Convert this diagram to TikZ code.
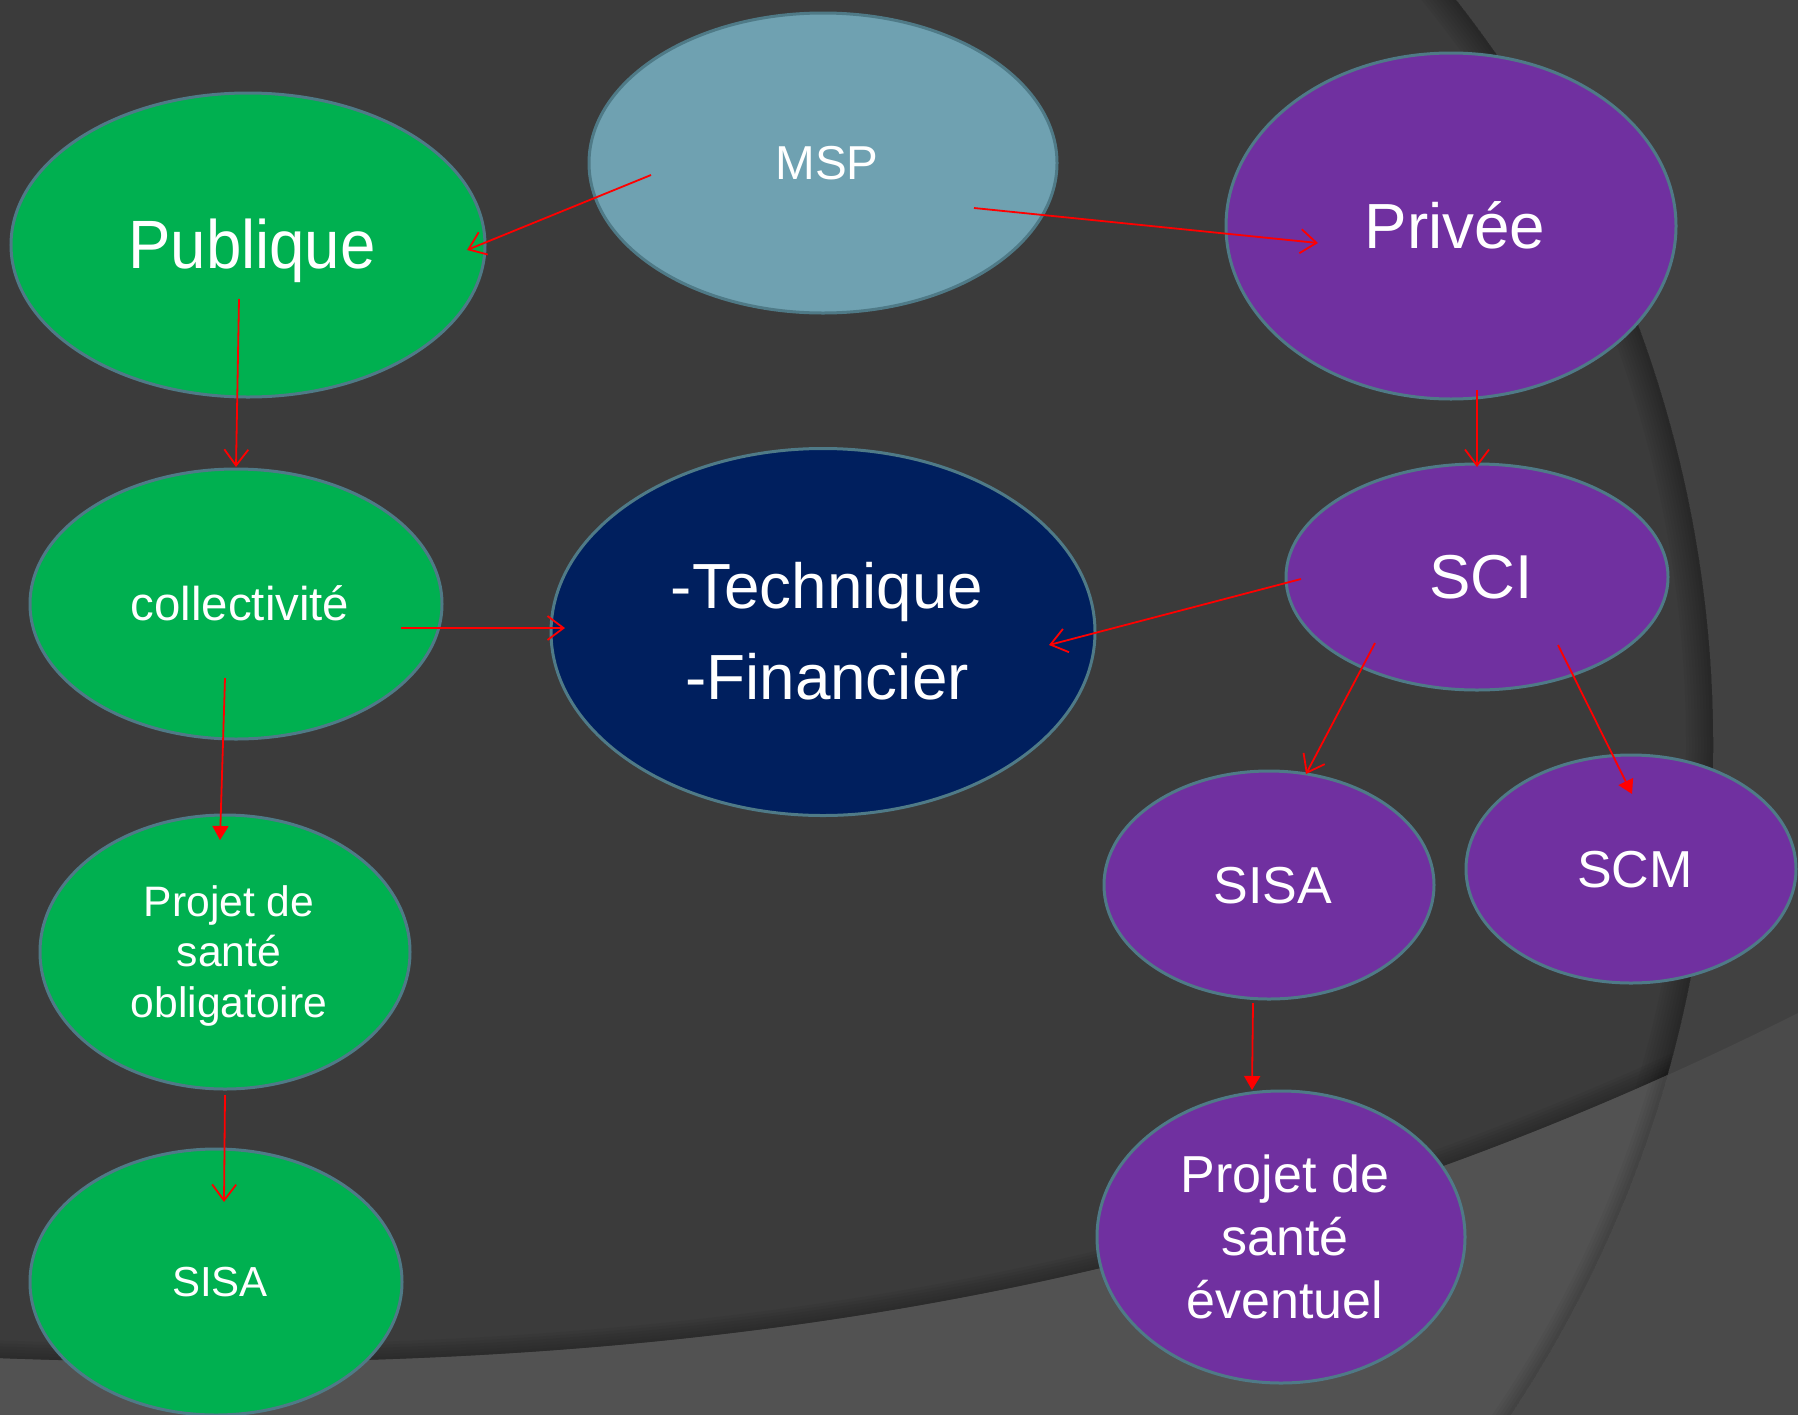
\documentclass[tikz,border=0pt]{standalone}
\usepackage{fontspec}
\usepackage{graphicx}
\setmainfont{Liberation Sans}
\usetikzlibrary{arrows.meta,shapes.geometric,calc}
\definecolor{bgdark}{HTML}{3B3B3B}
\definecolor{bgout}{HTML}{414141}
\definecolor{bglow}{HTML}{525252}
\definecolor{bglowout}{HTML}{4A4A4A}
\definecolor{mspcol}{HTML}{6FA1B1}
\definecolor{greencol}{HTML}{00B050}
\definecolor{purplecol}{HTML}{7030A0}
\definecolor{navycol}{HTML}{001F5E}
\definecolor{edgecol}{HTML}{4F7A87}
\newcommand{\bubtxt}[2][1]{\hspace*{4pt}\scalebox{#1}[1]{#2}}
\begin{document}
\begin{tikzpicture}[x=0.5pt,y=-0.5pt,
  bubble/.style={ellipse,draw=edgecol,line width=1.5pt,inner sep=0pt,text=white,align=center},
  openarr/.style={draw=red,line width=0.9pt,-{Straight Barb[length=8pt,width=12pt]}},
  fillarr/.style={draw=red,line width=0.9pt,-{Triangle[length=7pt,width=8pt]}}]
% ---------- background ----------
\useasboundingbox (0,0) rectangle (1798,1414);
\fill[bgout] (0,0) rectangle (1798,1414);
\fill[bgdark] (505,745) circle[radius=604pt];
\begin{scope}
  \clip (505,745) circle[radius=604pt];
  \foreach \w in {3,6,...,27}{\draw[black,opacity=0.035,line width=\w pt] (505,745) circle[radius=604pt];}
  \foreach \w in {3,6,...,18}{\draw[black,opacity=0.04,line width=\w pt] (-10,1358) .. controls (700,1385) and (1250,1290) .. (1808,1008);}
\end{scope}
\fill[bglowout] (-10,1358) .. controls (700,1385) and (1250,1290) .. (1808,1008) -- (1808,1424) -- (-10,1424) -- cycle;
\begin{scope}
  \clip (505,745) circle[radius=604pt];
  \fill[bglow] (-10,1358) .. controls (700,1385) and (1250,1290) .. (1808,1008) -- (1808,1424) -- (-10,1424) -- cycle;
  \begin{scope}
    \clip (-10,1358) .. controls (700,1385) and (1250,1290) .. (1808,1008) -- (1808,1424) -- (-10,1424) -- cycle;
    \foreach \w in {3,6,...,15}{\draw[black,opacity=0.035,line width=\w pt] (505,745) circle[radius=604pt];}
  \end{scope}
\end{scope}
% ---------- nodes ----------
\node[bubble,fill=mspcol,minimum width=234pt,minimum height=150pt,font=\fontsize{23.8}{28}\selectfont,text height=21.5pt,text depth=5pt] (msp) at (823,163) {\bubtxt{MSP}};
\node[bubble,fill=greencol,minimum width=237pt,minimum height=152pt,font=\fontsize{34.2}{40}\selectfont,text height=31pt,text depth=7.2pt] (pub) at (248,245) {\bubtxt[0.93]{Publique}};
\node[bubble,fill=purplecol,minimum width=225pt,minimum height=173pt,font=\fontsize{31.9}{38}\selectfont,text height=28.9pt,text depth=6.8pt] (priv) at (1451,226) {\bubtxt{Privée}};
\node[bubble,fill=greencol,minimum width=206pt,minimum height=135pt,font=\fontsize{23.7}{28}\selectfont,text height=21.4pt,text depth=5pt] (coll) at (236,604) {\bubtxt{collectivité}};
\node[bubble,fill=navycol,minimum width=272pt,minimum height=183.5pt,font=\fontsize{31.9}{45.5}\selectfont,text height=74.4pt,text depth=6.8pt] (tech) at (823,632) {\bubtxt{-Technique}\\\bubtxt{-Financier}};
\node[bubble,fill=purplecol,minimum width=191pt,minimum height=113pt,font=\fontsize{31}{38}\selectfont,text height=28pt,text depth=6.6pt] (sci) at (1477,577) {\bubtxt{SCI}};
\node[bubble,fill=purplecol,minimum width=165pt,minimum height=114pt,font=\fontsize{26}{31}\selectfont,text height=23.5pt,text depth=5.5pt] (sisar) at (1269,885) {\bubtxt{SISA}};
\node[bubble,fill=purplecol,minimum width=165pt,minimum height=114pt,font=\fontsize{26}{31}\selectfont,text height=23.5pt,text depth=5.5pt] (scm) at (1631,869) {\bubtxt{SCM}};
\node[bubble,fill=purplecol,minimum width=184pt,minimum height=146pt,font=\fontsize{26}{31.5}\selectfont,text height=86.5pt,text depth=5.5pt] (pse) at (1281,1237) {\bubtxt{Projet de}\\\bubtxt{santé}\\\bubtxt{éventuel}};
\node[bubble,fill=greencol,minimum width=185pt,minimum height=137pt,font=\fontsize{21.3}{25.2}\selectfont,text height=69.7pt,text depth=4.5pt] (pso) at (225,952) {\bubtxt{Projet de}\\\bubtxt{santé}\\\bubtxt{obligatoire}};
\node[bubble,fill=greencol,minimum width=186pt,minimum height=133pt,font=\fontsize{21}{25}\selectfont,text height=19pt,text depth=4.5pt] (sisal) at (216,1282) {\bubtxt{SISA}};
% ---------- connector ends ----------
\coordinate (a1s) at ($(msp)+(-172,12)$);   \coordinate (a1e) at ($(pub)+(219,5)$);
\coordinate (a2s) at ($(msp)+(151,45)$);    \coordinate (a2e) at ($(priv)+(-133,17)$);
\coordinate (a3s) at ($(pub)+(-9,54)$);     \coordinate (a3e) at ($(coll)+(0,-137)$);
\coordinate (a4s) at ($(priv)+(26,164)$);   \coordinate (a4e) at ($(sci)+(0,-110)$);
\coordinate (a5s) at ($(coll)+(165,24)$);   \coordinate (a5e) at ($(tech)+(-258,-4)$);
\coordinate (a6s) at ($(sci)+(-176,2)$);    \coordinate (a6e) at ($(tech)+(226,13)$);
\coordinate (a7s) at ($(sci)+(-102,66)$);   \coordinate (a7e) at ($(sisar)+(37,-111)$);
\coordinate (a8s) at ($(sci)+(81,68)$);     \coordinate (a8e) at ($(scm)+(1,-75)$);
\coordinate (a9s) at ($(coll)+(-11,74)$);   \coordinate (a9e) at ($(pso)+(-5,-112)$);
\coordinate (a10s) at ($(sisar)+(-16,118)$); \coordinate (a10e) at ($(pse)+(-29,-147)$);
\coordinate (a11s) at ($(pso)+(0,143)$);    \coordinate (a11e) at ($(sisal)+(8,-80)$);
% ---------- connectors ----------
\draw[openarr] (a1s) -- (a1e);
\draw[openarr] (a2s) -- (a2e);
\draw[openarr] (a3s) -- (a3e);
\draw[openarr] (a4s) -- (a4e);
\draw[openarr] (a5s) -- (a5e);
\draw[openarr] (a6s) -- (a6e);
\draw[openarr] (a7s) -- (a7e);
\draw[fillarr] (a8s) -- (a8e);
\draw[fillarr] (a9s) -- (a9e);
\draw[fillarr] (a10s) -- (a10e);
\draw[openarr] (a11s) -- (a11e);
\end{tikzpicture}
\end{document}
